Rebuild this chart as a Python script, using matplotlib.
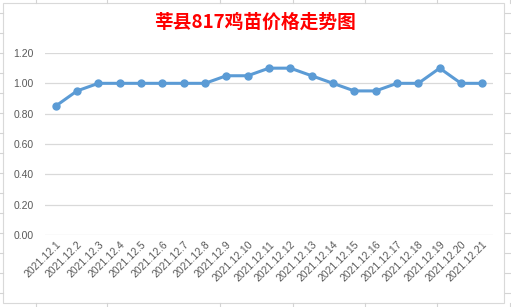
import matplotlib.pyplot as plt
from matplotlib.lines import Line2D
from matplotlib.patches import Rectangle

dates = ['2021.12.' + str(d) for d in range(1, 22)]
prices = [0.85, 0.95, 1.00, 1.00, 1.00, 1.00, 1.00, 1.00, 1.05, 1.05, 1.10,
          1.10, 1.05, 1.00, 0.95, 0.95, 1.00, 1.00, 1.10, 1.00, 1.00]
yticks = [0.0, 0.2, 0.4, 0.6, 0.8, 1.0, 1.2]

plt.rcParams['font.family'] = ['Liberation Sans', 'Noto Sans CJK SC', 'DejaVu Sans']

W, H = 511, 307
fig = plt.figure(figsize=(W / 100, H / 100), dpi=100)

# spreadsheet cells peeking out around the chart
grey = '#d4d4d4'
for y in range(13, 307, 20):
    fig.add_artist(Line2D([0, 3 / W], [1 - y / H] * 2, color=grey, lw=0.8))
    fig.add_artist(Line2D([505 / W, 1], [1 - y / H] * 2, color=grey, lw=0.8))
for x in [36, 107, 220, 293, 365, 437, 510]:
    fig.add_artist(Line2D([x / W] * 2, [1, 1 - 3 / H], color=grey, lw=0.8))
    fig.add_artist(Line2D([x / W] * 2, [0, 4 / H], color=grey, lw=0.8))
box = Rectangle((3 / W, 4 / H), 501 / W, 300 / H, transform=fig.transFigure,
                facecolor='white', edgecolor='#d9d9d9', lw=0.8, zorder=-1)
fig.add_artist(box)

ax = fig.add_axes([45 / W, (H - 235) / H, 448 / W, 182 / H])
ax.set_facecolor('none')
x = list(range(len(dates)))
ax.plot(x, prices, color='#5b9bd5', lw=2.2, marker='o', ms=5, zorder=3)

ax.set_xlim(-0.5, len(dates) - 0.5)
ax.set_ylim(0, 1.2)
ax.set_yticks(yticks)
ax.set_yticklabels(['%.2f' % v for v in yticks])
ax.set_xticks(x)
ax.set_xticklabels(dates, rotation=45, ha='right', va='top', rotation_mode='anchor')
ax.grid(axis='y', color='#d9d9d9', lw=0.9)
for s in ax.spines.values():
    s.set_visible(False)
ax.tick_params(length=0, labelsize=7.5, labelcolor='#595959')
ax.tick_params(axis='x', pad=3)
ax.tick_params(axis='y', pad=8)

fig.text(255 / W, 1 - 22 / H, '莘县817鸡苗价格走势图', color='red', fontsize=13.5,
         fontweight='bold', ha='center', va='center',
         family=['Noto Sans CJK SC', 'DejaVu Sans'])

fig.savefig('out.png', dpi=100)
